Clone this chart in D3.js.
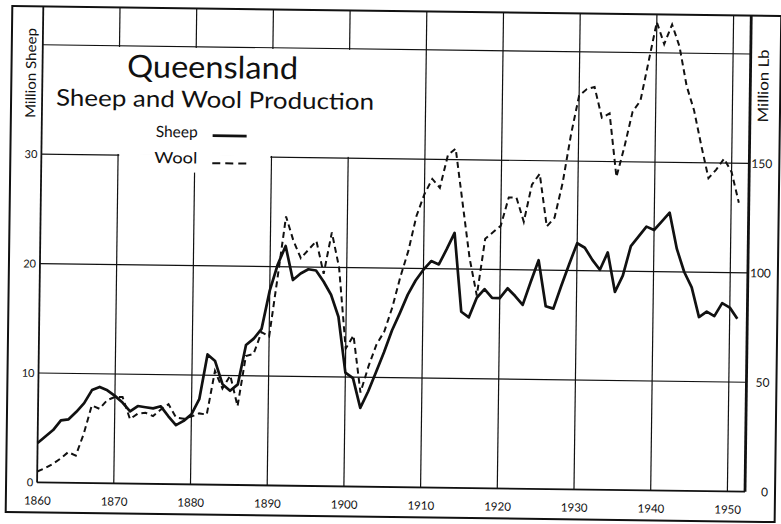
<!DOCTYPE html>
<html lang="en">
<head>
<meta charset="UTF-8">
<title>Queensland Sheep and Wool Production</title>
<script src="https://cdn.jsdelivr.net/npm/d3@7"></script>
<style>
  body {margin:0; background:#fff;}
  svg {display:block;}
</style>
</head>
<body>
<div id="chart"></div>
<script>
// Data
var years = [1860,1861,1862,1863,1864,1865,1866,1867,1868,1869,
             1870,1871,1872,1873,1874,1875,1876,1877,1878,1879,
             1880,1881,1882,1883,1884,1885,1886,1887,1888,1889,
             1890,1891,1892,1893,1894,1895,1896,1897,1898,1899,
             1900,1901,1902,1903,1904,1905,1906,1907,1908,1909,
             1910,1911,1912,1913,1914,1915,1916,1917,1918,1919,
             1920,1921,1922,1923,1924,1925,1926,1927,1928,1929,
             1930,1931,1932,1933,1934,1935,1936,1937,1938,1939,
             1940,1941,1942,1943,1944,1945,1946,1947,1948,1949,
             1950,1951];

// million sheep (left axis)
var sheep = [3.6,4.2,4.8,5.7,5.8,6.5,7.3,8.5,8.8,8.5,
             8.0,7.4,6.6,7.1,7.0,6.9,7.1,6.2,5.4,5.8,
             6.4,7.8,11.9,11.3,9.2,8.6,9.2,12.8,13.4,14.3,
             17.8,20.2,21.9,18.8,19.4,19.8,19.7,18.7,17.5,15.5,
             10.4,9.9,7.2,8.7,10.5,12.3,14.3,15.9,17.6,18.9,
             19.9,20.7,20.4,21.8,23.3,16.1,15.6,17.4,18.2,17.4,
             17.4,18.3,17.6,16.8,18.9,20.9,16.7,16.5,18.6,20.6,
             22.5,22.1,21.0,20.1,21.7,18.1,19.6,22.3,23.2,24.1,
             23.8,24.6,25.4,22.1,20.0,18.6,15.9,16.4,16.0,17.2,
             16.8,15.8];

// million lb of wool (right axis)
var wool = [5,6.5,8.5,11,14,12.5,22.5,35.5,34,38,
            39.5,39.5,29.5,32,32.5,31,34,36.5,30.5,30,
            31,32.5,32,52,44,50,36,59,60,70,
            68,95,123,112,104,108,112,97,116,100,
            63,69,43,55,65,71,82,96,108,124,
            134,141,137,152,155,130,105,88,114,117,
            120,133,133,122,139,144,120,124,140,162,
            180,183,184,170,172,143,157,173,178,196,
            214,204,213,203,185,174,158,143,147,152,
            146,132];

var decades = [1860,1870,1880,1890,1900,1910,1920,1930,1940,1950];
var sheepTicks = [0,10,20,30];
var woolTicks = [0,50,100,150];
var gridValues = [10,20,30,40];

var w = 781;
var h = 524;
var ink = "#111";
var font = "Lato, 'DejaVu Sans', sans-serif";

var x = d3.scaleLinear().domain([1860, 1952.3]).range([40, 748]);
var y = d3.scaleLinear().domain([0, 43.5]).range([487, 11]);
var y2 = d3.scaleLinear().domain([0, 217.5]).range([487, 11]);

var svg = d3.select("#chart").append("svg")
    .attr("width", w)
    .attr("height", h);

svg.append("rect").attr("width", w).attr("height", h).attr("fill", "#fff");

// the scanned page is a little tilted
var g = svg.append("g").attr("transform", "rotate(0.75,390,262)");

// grid
g.selectAll(".vgrid").data(decades.slice(1)).enter().append("line")
    .attr("x1", function(d) {return x(d);})
    .attr("x2", function(d) {return x(d);})
    .attr("y1", y(0))
    .attr("y2", y(43.5))
    .attr("stroke", ink)
    .attr("stroke-width", 1.2);

g.selectAll(".hgrid").data(gridValues).enter().append("line")
    .attr("x1", x(1860))
    .attr("x2", x(1952.3))
    .attr("y1", function(d) {return y(d);})
    .attr("y2", function(d) {return y(d);})
    .attr("stroke", ink)
    .attr("stroke-width", 1.2);

// white panel behind the title and legend
g.append("rect")
    .attr("x", x(1860) + 1.5)
    .attr("y", y(40) + 1.2)
    .attr("width", x(1906.5) - x(1860) - 1.5)
    .attr("height", y(30) - y(40) - 2.4)
    .attr("fill", "#fff");
g.append("rect")
    .attr("x", x(1870) + 1.2)
    .attr("y", y(30) - 1.5)
    .attr("width", x(1890) - x(1870) - 2.4)
    .attr("height", y(28.5) - y(30) + 1.5)
    .attr("fill", "#fff");

// frame
g.append("rect")
    .attr("x", 9).attr("y", 11)
    .attr("width", 769).attr("height", 506)
    .attr("fill", "none")
    .attr("stroke", ink)
    .attr("stroke-width", 2);
g.append("line")
    .attr("x1", x(1860)).attr("x2", x(1860))
    .attr("y1", y(43.5)).attr("y2", y(0))
    .attr("stroke", ink).attr("stroke-width", 1.8);
g.append("line")
    .attr("x1", x(1860)).attr("x2", x(1952.3))
    .attr("y1", y(0)).attr("y2", y(0))
    .attr("stroke", ink).attr("stroke-width", 1.8);
g.append("line")
    .attr("x1", x(1952.3)).attr("x2", x(1952.3))
    .attr("y1", y(43.5)).attr("y2", y(0))
    .attr("stroke", ink).attr("stroke-width", 2.8);

// axes
var xAxis = d3.axisBottom(x).tickValues(decades).tickFormat(d3.format("d")).tickSize(0).tickPadding(14);
var yAxis = d3.axisLeft(y).tickValues(sheepTicks).tickSize(0).tickPadding(4);
var y2Axis = d3.axisRight(y2).tickValues(woolTicks).tickSize(0);

g.append("g").attr("transform", "translate(0," + y(0) + ")").call(xAxis)
    .call(function(a) {a.select(".domain").remove();})
    .attr("font-family", font).attr("font-size", 11.5);
g.append("g").attr("transform", "translate(" + x(1860) + ",0)").call(yAxis)
    .call(function(a) {a.select(".domain").remove();})
    .attr("font-family", font).attr("font-size", 11);
g.append("g").attr("transform", "translate(" + x(1952.3) + ",0)").call(y2Axis)
    .call(function(a) {a.select(".domain").remove();})
    .attr("font-family", font).attr("font-size", 12)
    .selectAll("text").attr("x", 23).attr("text-anchor", "end");
g.selectAll(".tick text").attr("fill", ink);

// series
var sheepLine = d3.line()
    .x(function(d, i) {return x(years[i]);})
    .y(function(d) {return y(d);});
var woolLine = d3.line()
    .x(function(d, i) {return x(years[i]);})
    .y(function(d) {return y2(d);});

g.append("path").datum(wool)
    .attr("d", woolLine)
    .attr("fill", "none")
    .attr("stroke", ink)
    .attr("stroke-width", 2)
    .attr("stroke-dasharray", "6,4");

g.append("path").datum(sheep)
    .attr("d", sheepLine)
    .attr("fill", "none")
    .attr("stroke", ink)
    .attr("stroke-width", 2.7)
    .attr("stroke-linejoin", "round");

// titles
g.append("text")
    .attr("x", 210).attr("y", 80.5)
    .attr("text-anchor", "middle")
    .attr("font-family", font).attr("font-size", 31)
    .attr("textLength", 171).attr("lengthAdjust", "spacingAndGlyphs")
    .attr("fill", ink)
    .text("Queensland");
g.append("text")
    .attr("x", 213).attr("y", 110)
    .attr("text-anchor", "middle")
    .attr("font-family", font).attr("font-size", 23)
    .attr("textLength", 318).attr("lengthAdjust", "spacingAndGlyphs")
    .attr("fill", ink)
    .text("Sheep and Wool Production");

// legend
g.append("text")
    .attr("x", 196).attr("y", 140)
    .attr("text-anchor", "end")
    .attr("font-family", font).attr("font-size", 15.5)
    .attr("fill", ink)
    .text("Sheep");
g.append("line")
    .attr("x1", 211).attr("x2", 245).attr("y1", 138).attr("y2", 138)
    .attr("stroke", ink).attr("stroke-width", 2.8);
g.append("text")
    .attr("x", 196).attr("y", 166)
    .attr("text-anchor", "end")
    .attr("font-family", font).attr("font-size", 15.5)
    .attr("textLength", 43).attr("lengthAdjust", "spacingAndGlyphs")
    .attr("fill", ink)
    .text("Wool");
g.append("line")
    .attr("x1", 211).attr("x2", 247).attr("y1", 165.5).attr("y2", 165.5)
    .attr("stroke", ink).attr("stroke-width", 2)
    .attr("stroke-dasharray", "8,5");

// axis titles
g.append("text")
    .attr("transform", "translate(28.5,77.7) rotate(-90)")
    .attr("dy", "0.35em")
    .attr("text-anchor", "middle")
    .attr("font-family", font).attr("font-size", 14)
    .attr("textLength", 90).attr("lengthAdjust", "spacingAndGlyphs")
    .attr("fill", ink)
    .text("Million Sheep");
g.append("text")
    .attr("transform", "translate(761,81) rotate(-90)")
    .attr("dy", "0.35em")
    .attr("text-anchor", "middle")
    .attr("font-family", font).attr("font-size", 14.5)
    .attr("textLength", 73).attr("lengthAdjust", "spacingAndGlyphs")
    .attr("fill", ink)
    .text("Million Lb");
</script>
</body>
</html>
